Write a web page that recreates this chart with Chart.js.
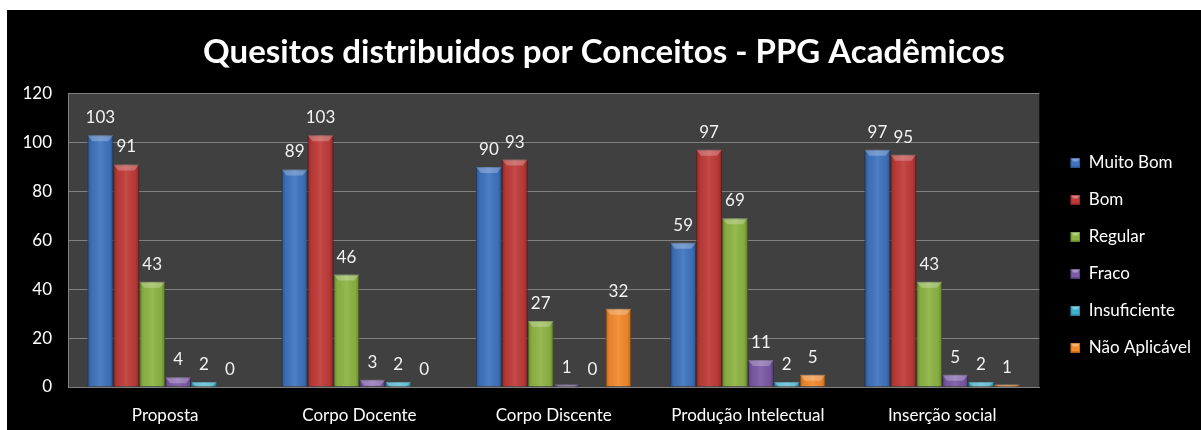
<!DOCTYPE html>
<html>
<head>
<meta charset="utf-8">
<script src="https://cdn.jsdelivr.net/npm/chart.js@4.4.0/dist/chart.umd.min.js"></script>
<style>
  html, body { margin: 0; padding: 0; background: #fff; }
  .frame { position: absolute; left: 7px; top: 10px; width: 1194px; height: 420px; background: #000; }
</style>
</head>
<body>
<div class="frame"><canvas id="chart" width="1194" height="420"></canvas></div>
<script>
const categories = ['Proposta', 'Corpo Docente', 'Corpo Discente', 'Produção Intelectual', 'Inserção social'];
const muitoBom = [103, 89, 90, 59, 97];
const bom = [91, 103, 93, 97, 95];
const regular = [43, 46, 27, 69, 43];
const fraco = [4, 3, 1, 11, 5];
const insuficiente = [2, 2, 0, 2, 2];
const naoAplicavel = [0, 0, 32, 5, 1];
const yTicks = [0, 20, 40, 60, 80, 100, 120];

const FONT = 'Lato, "Open Sans", sans-serif';

// plot area background
const plotBg = {
    id: 'plotBg',
    beforeDraw(chart) {
        const { ctx, chartArea: a } = chart;
        ctx.save();
        ctx.fillStyle = '#404040';
        ctx.fillRect(a.left, a.top, a.right - a.left, a.bottom - a.top);
        ctx.restore();
    }
};

// shading on the bars (dark sides, light bevel on top), then the value labels
const barShade = {
    id: 'barShade',
    afterDatasetsDraw(chart) {
        const ctx = chart.ctx;
        ctx.save();
        chart.data.datasets.forEach((ds, i) => {
            chart.getDatasetMeta(i).data.forEach((bar) => {
                const { x, y, base, width } = bar.getProps(['x', 'y', 'base', 'width'], true);
                const l = x - width / 2, r = x + width / 2, h = base - y;
                if (h < 1) return;
                const g = ctx.createLinearGradient(l, 0, r, 0);
                g.addColorStop(0, 'rgba(0,0,0,0.28)');
                g.addColorStop(0.15, 'rgba(0,0,0,0.05)');
                g.addColorStop(0.5, 'rgba(255,255,255,0.08)');
                g.addColorStop(0.85, 'rgba(0,0,0,0.05)');
                g.addColorStop(1, 'rgba(0,0,0,0.3)');
                ctx.fillStyle = g;
                ctx.fillRect(l, y, width, h);
                const cap = Math.min(6, h);
                ctx.beginPath();
                ctx.moveTo(l, y);
                ctx.lineTo(r, y);
                ctx.lineTo(r - 5, y + cap);
                ctx.lineTo(l + 5, y + cap);
                ctx.closePath();
                ctx.fillStyle = 'rgba(255,255,255,0.25)';
                ctx.fill();
            });
        });
        ctx.fillStyle = '#f2f2f2';
        ctx.font = '17px ' + FONT;
        ctx.textAlign = 'center';
        ctx.textBaseline = 'bottom';
        chart.data.datasets.forEach((ds, i) => {
            chart.getDatasetMeta(i).data.forEach((bar, j) => {
                ctx.fillText(ds.data[j], bar.x, bar.y - 9);
            });
        });
        ctx.restore();
    }
};

const series = [
    { label: 'Muito Bom', data: muitoBom, color: '#3f74bf', edge: '#2a5290' },
    { label: 'Bom', data: bom, color: '#bf3b38', edge: '#8c2624' },
    { label: 'Regular', data: regular, color: '#8db443', edge: '#64852b' },
    { label: 'Fraco', data: fraco, color: '#7b5aa6', edge: '#553c78' },
    { label: 'Insuficiente', data: insuficiente, color: '#3fb0cc', edge: '#25809a' },
    { label: 'Não Aplicável', data: naoAplicavel, color: '#f28a2e', edge: '#b8601a' }
];

// legend marker: a small bevelled square, drawn at the right of a wider transparent image
function legendMarker(color, edge) {
    const c = document.createElement('canvas');
    c.width = 21;
    c.height = 10;
    const x = c.getContext('2d');
    x.fillStyle = color;
    x.fillRect(11, 0, 10, 10);
    x.fillStyle = 'rgba(255,255,255,0.35)';
    x.beginPath();
    x.moveTo(11, 0); x.lineTo(21, 0); x.lineTo(18, 4); x.lineTo(14, 4);
    x.closePath();
    x.fill();
    x.strokeStyle = edge;
    x.lineWidth = 1;
    x.strokeRect(11.5, 0.5, 9, 9);
    return c;
}

new Chart(document.getElementById('chart'), {
    type: 'bar',
    data: {
        labels: categories,
        datasets: series.map(s => ({
            label: s.label,
            data: s.data,
            backgroundColor: s.color,
            borderColor: s.edge,
            borderWidth: 1,
            categoryPercentage: 0.8,
            barPercentage: 1.0,
            marker: legendMarker(s.color, s.edge)
        }))
    },
    options: {
        responsive: false,
        animation: false,
        layout: { padding: { left: 0, right: 0, top: 0, bottom: 6 } },
        plugins: {
            title: {
                display: true,
                text: 'Quesitos distribuidos por Conceitos - PPG Acadêmicos',
                color: '#ffffff',
                font: { family: FONT, size: 33, weight: 'bold' },
                padding: { top: 23, bottom: 21 }
            },
            legend: {
                position: 'right',
                align: 'start',
                title: { display: true, text: ' ', font: { size: 10 }, padding: { top: 56, bottom: 56 } },
                labels: {
                    color: '#ffffff',
                    font: { family: FONT, size: 17 },
                    usePointStyle: true,
                    pointStyleWidth: 21,
                    boxHeight: 10,
                    padding: 20,
                    generateLabels(chart) {
                        return chart.data.datasets.map((ds, i) => ({
                            text: ds.label,
                            pointStyle: ds.marker,
                            fillStyle: ds.backgroundColor,
                            strokeStyle: ds.borderColor,
                            lineWidth: 0,
                            fontColor: '#ffffff',
                            datasetIndex: i
                        }));
                    }
                }
            },
            tooltip: { enabled: false }
        },
        scales: {
            x: {
                grid: { display: false },
                border: { color: '#808080' },
                ticks: { color: '#ffffff', font: { family: FONT, size: 17 }, padding: 10 },
                afterFit(scale) { scale.height = 37; }
            },
            y: {
                min: 0,
                max: 120,
                afterBuildTicks(scale) { scale.ticks = yTicks.map(v => ({ value: v })); },
                grid: { color: '#808080', drawTicks: false },
                border: { color: '#808080' },
                ticks: { color: '#ffffff', font: { family: FONT, size: 17 }, padding: 16 },
                afterFit(scale) { scale.width = 61; }
            }
        }
    },
    plugins: [plotBg, barShade]
});
</script>
</body>
</html>
